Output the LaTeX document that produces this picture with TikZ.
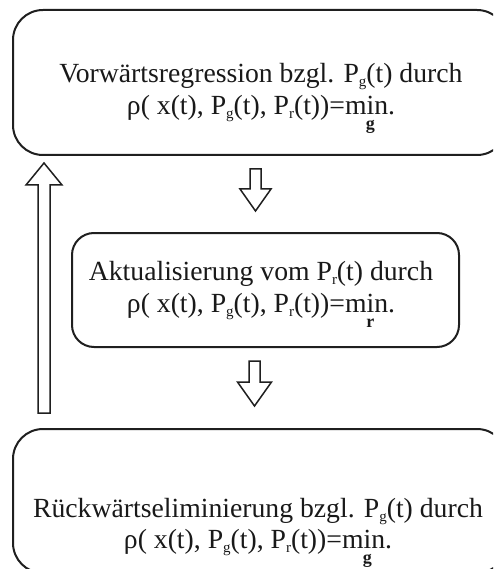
\documentclass[tikz,border=0pt]{standalone}
\usepackage{fontspec}
\setmainfont{Liberation Serif}
\usetikzlibrary{calc}
\newcommand\lowsub[1]{\raisebox{-4pt}{\fontsize{15}{15}\selectfont #1}}
\newcommand\minunder[1]{m\ooalign{i\cr\hidewidth\raisebox{-15pt}{\fontsize{18}{18}\selectfont\bfseries #1}\hidewidth\cr}n.}
\newcommand\blockarrow[5]{%
  \coordinate (ba-b) at ($(#2)!#5!(#1)$);
  \draw[arrowline] ($(#1)!#3!-90:(#2)$) -- ($(ba-b)!#3!-90:(#2)$) -- ($(ba-b)!#4!-90:(#2)$) -- (#2)
     -- ($(ba-b)!#4!90:(#2)$) -- ($(ba-b)!#3!90:(#2)$) -- ($(#1)!#3!90:(#2)$) -- cycle;}
\tikzset{
  box/.style={draw=black!88, line width=2pt, inner sep=0pt},
  txt/.style={anchor=base, inner sep=0pt, font=\fontsize{27.7}{32}\selectfont, text=black!90},
  arrowline/.style={draw=black!88, line width=1.5pt, line join=miter, fill=white}
}
\begin{document}
\begin{tikzpicture}[x=1pt,y=-1pt]
\useasboundingbox (0,0) rectangle (493,569);
\clip (0,0) rectangle (493,569);
% boxes
\node[box, rounded corners=30pt, minimum width=494pt, minimum height=145pt] (b1) at (260,82.5) {};
\node[box, rounded corners=22pt, minimum width=387pt, minimum height=114pt] (b2) at (265.5,290) {};
\node[box, rounded corners=30pt, minimum width=494pt, minimum height=144pt] (b3) at (260,501) {};
% texts
\node[txt] (t1a) at (261,83) {Vorwärtsregression bzgl. P\lowsub{g}(t) durch};
\node[txt] (t1b) at (261,115) {ρ( x(t), P\lowsub{g}(t), P\lowsub{r}(t))=\minunder{g}};
\node[txt] (t2a) at (261,280) {Aktualisierung vom P\lowsub{r}(t) durch};
\node[txt] (t2b) at (261,312) {ρ( x(t), P\lowsub{g}(t), P\lowsub{r}(t))=\minunder{r}};
\node[txt] (t3a) at (258,517) {Rückwärtseliminierung bzgl. P\lowsub{g}(t) durch};
\node[txt] (t3b) at (258,548) {ρ( x(t), P\lowsub{g}(t), P\lowsub{r}(t))=\minunder{g}};
% arrows
\coordinate (d1s) at (255.5,169);
\coordinate (d1e) at (255.5,211);
\coordinate (d2s) at (254.5,361);
\coordinate (d2e) at (254.5,406);
\coordinate (ups) at (44,413);
\coordinate (upe) at (44,163);
\blockarrow{d1s}{d1e}{5.5pt}{15.5pt}{22pt}
\blockarrow{d2s}{d2e}{5.5pt}{17pt}{24pt}
\blockarrow{ups}{upe}{6pt}{18pt}{22pt}
\end{tikzpicture}
\end{document}
